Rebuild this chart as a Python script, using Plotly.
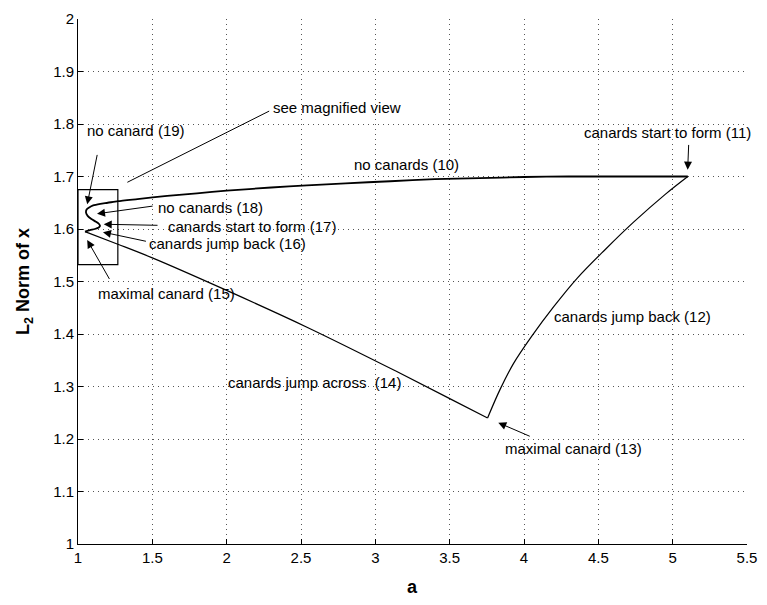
import plotly.graph_objects as go

# Upper branch: S-shaped turn near a = 1 ("no canards" 16-19) then the flat branch (10)
upper_a = [1.047, 1.080, 1.113, 1.140, 1.148, 1.140, 1.120, 1.090, 1.065, 1.054,
           1.058, 1.075, 1.102, 1.150, 1.200, 1.268, 1.40, 1.60, 1.80, 2.00,
           2.30, 2.54, 2.80, 3.10, 3.40, 3.70, 4.00, 4.30, 4.60, 4.90, 5.102]
upper_norm = [1.595, 1.598, 1.600, 1.603, 1.606, 1.610, 1.614, 1.619, 1.625, 1.631,
              1.637, 1.641, 1.645, 1.648, 1.650, 1.653, 1.657, 1.663, 1.668, 1.673,
              1.679, 1.683, 1.687, 1.691, 1.695, 1.697, 1.699, 1.700, 1.700, 1.700, 1.700]

# "canards jump back" branch (12)
jump_back_a = [5.102, 4.95, 4.737, 4.55, 4.36, 4.20, 4.05, 3.93, 3.84, 3.755]
jump_back_norm = [1.700, 1.666, 1.613, 1.562, 1.507, 1.452, 1.395, 1.344, 1.295, 1.240]

# "canards jump across" branch (14)
across_a = [3.755, 3.507, 3.141, 2.54, 2.00, 1.50, 1.268, 1.047]
across_norm = [1.240, 1.276, 1.329, 1.413, 1.483, 1.545, 1.571, 1.595]

x_ticks = [1, 1.5, 2, 2.5, 3, 3.5, 4, 4.5, 5, 5.5]
x_tick_text = ["1", "1.5", "2", "2.5", "3", "3.5", "4", "4.5", "5", "5.5"]
y_ticks = [1, 1.1, 1.2, 1.3, 1.4, 1.5, 1.6, 1.7, 1.8, 1.9, 2]
y_tick_text = ["1", "1.1", "1.2", "1.3", "1.4", "1.5", "1.6", "1.7", "1.8", "1.9", "2"]

# Labels: (text, a, norm) anchored at their left edge
labels = [
    ("see magnified view", 2.298, 1.831),
    ("no canard (19)", 1.047, 1.788),
    ("no canards (18)", 1.523, 1.641),
    ("canards start to form (17)", 1.590, 1.605),
    ("canards jump back (16)", 1.465, 1.573),
    ("maximal canard (15)", 1.124, 1.478),
    ("no canards (10)", 2.841, 1.723),
    ("canards start to form (11)", 4.390, 1.783),
    ("canards jump back (12)", 4.190, 1.433),
    ("canards jump across  (14)", 1.997, 1.307),
    ("maximal canard (13)", 3.858, 1.182),
]

# Pointers: (tail a, tail norm, head a, head norm, arrowhead style)
pointers = [
    (2.296, 1.826, 1.332, 1.689, 0),
    (1.131, 1.744, 1.062, 1.647, 2),
    (1.512, 1.644, 1.128, 1.629, 2),
    (1.545, 1.607, 1.173, 1.609, 2),
    (1.467, 1.576, 1.168, 1.594, 2),
    (1.217, 1.502, 1.062, 1.579, 2),
    (5.108, 1.763, 5.101, 1.713, 2),
    (4.049, 1.204, 3.827, 1.231, 2),
]

# Magnified-view frame
frame_a = [1.0, 1.268]
frame_norm = [1.532, 1.675]

FONT = "Liberation Sans, Arial, Helvetica, sans-serif"

fig = go.Figure()
fig.add_trace(go.Scatter(x=upper_a, y=upper_norm, mode="lines",
                         line=dict(color="black", width=1.8, shape="spline", smoothing=0.6),
                         hoverinfo="skip"))
fig.add_trace(go.Scatter(x=jump_back_a, y=jump_back_norm, mode="lines",
                         line=dict(color="black", width=1.2, shape="spline", smoothing=1),
                         hoverinfo="skip"))
fig.add_trace(go.Scatter(x=across_a, y=across_norm, mode="lines",
                         line=dict(color="black", width=1.2, shape="spline", smoothing=1),
                         hoverinfo="skip"))

fig.add_shape(type="rect", xref="x", yref="y",
              x0=frame_a[0], x1=frame_a[1], y0=frame_norm[0], y1=frame_norm[1],
              line=dict(color="black", width=1.2))

annotations = []
for text, a, n in labels:
    annotations.append(dict(x=a, y=n, xref="x", yref="y", text=text, showarrow=False,
                            xanchor="left", yanchor="middle",
                            font=dict(family=FONT, size=15, color="black")))
for ta, tn, ha, hn, head in pointers:
    annotations.append(dict(x=ha, y=hn, ax=ta, ay=tn, xref="x", yref="y",
                            axref="x", ayref="y", text="", showarrow=True,
                            arrowhead=head, arrowsize=1.6, arrowwidth=1,
                            arrowcolor="black", standoff=0, startstandoff=0))
annotations.append(dict(x=0.5, y=-0.0824, xref="paper", yref="paper", text="<b>a</b>",
                        showarrow=False, xanchor="center", yanchor="middle",
                        font=dict(family=FONT, size=18, color="black")))
annotations.append(dict(x=-0.0800, y=0.5, xref="paper", yref="paper",
                        text="<b>L<sub>2</sub> Norm of x</b>", textangle=-90,
                        showarrow=False, xanchor="center", yanchor="middle",
                        font=dict(family=FONT, size=18, color="black")))

axis_common = dict(
    showline=True, linecolor="black", linewidth=1, mirror=False,
    ticks="inside", ticklen=5, tickcolor="black", tickwidth=1,
    showgrid=True, gridcolor="#555555", gridwidth=1, griddash="1px,4px",
    zeroline=False, tickfont=dict(family=FONT, size=15, color="black"),
)

fig.update_layout(
    width=767, height=605,
    margin=dict(l=78, r=12, t=10, b=61),
    paper_bgcolor="white", plot_bgcolor="white",
    showlegend=False,
    annotations=annotations,
    xaxis=dict(range=[1, 5.5], tickvals=x_ticks, ticktext=x_tick_text, **axis_common),
    yaxis=dict(range=[1, 2], tickvals=y_ticks, ticktext=y_tick_text, **axis_common),
)

fig.write_html("out.html")
